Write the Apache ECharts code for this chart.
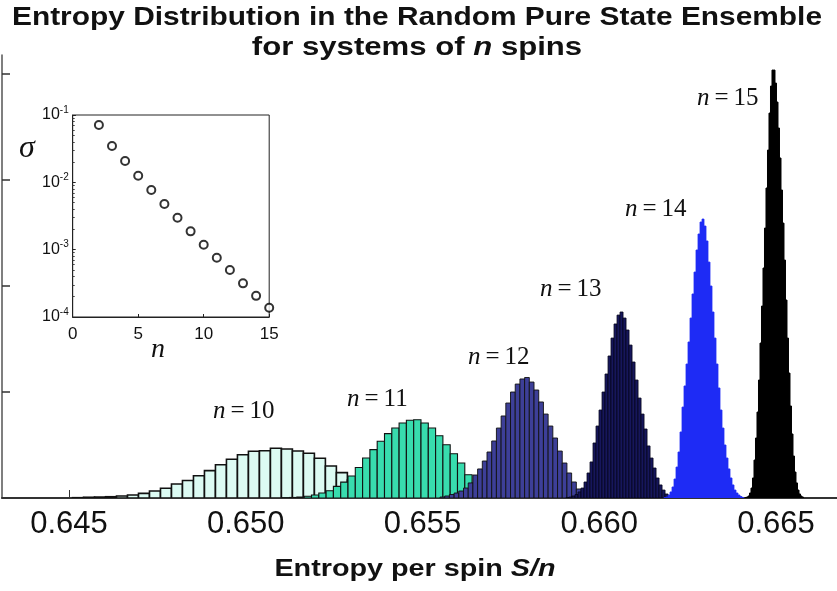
<!DOCTYPE html>
<html>
<head>
<meta charset="utf-8">
<script src="https://cdn.jsdelivr.net/npm/echarts@6/dist/echarts.min.js"></script>
<style>html,body{margin:0;padding:0;background:#fff}#c{width:837px;height:591px}</style>
</head>
<body>
<div id="c"></div>
<script>
// ---------- DATA ----------
const xTicks = [0.645, 0.650, 0.655, 0.660, 0.665];
const yTicks = [0, 100, 200, 300, 400];
// histogram n=10
const n10Start = 0.64510, n10Width = 0.000311;
const n10Heights = [0.3,0.7,0.9,1.2,1.9,2.8,4.4,6.6,9.2,13.2,16.5,21.0,25.8,31.4,36.5,40.8,44.1,44.6,46.9,46.2,44.3,42.2,37.5,30.2,23.9,17.0,10.4,5.7,2.8,1.4,0.7];
// histogram n=11
const n11Start = 0.651034, n11Width = 0.0002065;
const n11Heights = [0.3,0.5,0.9,1.6,2.8,4.7,6.9,11.0,15.0,20.8,28.8,37.7,45.6,53.5,60.7,66.0,70.8,73.3,73.9,70.8,66.0,58.8,50.3,41.8,33.0,22.0,14.2,8.5,4.7,2.4,0.9];
// histogram n=12
const n12Start = 0.655495, n12Width = 0.000133;
const n12Heights = [0.9,1.9,3.3,4.7,6.6,9.4,14.2,21.7,27.4,34.9,43.4,53.8,66.0,77.4,89.6,100.0,107.5,112.3,113.7,109.4,101.9,90.6,79.2,67.9,56.6,44.3,33.0,23.6,15.1,8.5,4.2,1.9,0.9,0.5];
// histogram n=13
const n13Start = 0.659060, n13Width = 0.0000849;
const n13Heights = [0.5,0.9,1.9,3.3,5.7,9.4,15.1,23.6,34.0,51.9,67.9,83.0,100.0,117.0,134.0,150.9,164.2,172.6,175.5,169.8,158.5,144.3,128.3,111.3,94.3,79.2,65.1,49.1,37.7,28.3,18.9,12.3,7.5,3.8,1.9,0.9];
// histogram n=14
const n14Start = 0.661832, n14Width = 0.00005658;
const n14Heights = [0.5,0.9,2.8,5.7,10.4,17.9,29.2,43.4,62.3,85.8,105.7,126.4,147.2,169.8,192.5,213.2,234.0,249.1,260.4,263.2,256.6,242.5,222.6,200.0,175.5,150.9,126.4,103.8,83.0,66.0,50.0,37.7,27.4,18.9,12.3,7.5,4.7,2.8,1.4,0.5];
// histogram n=15
const n15Start = 0.664123, n15Width = 0.00004243;
const n15Heights = [0.5,0.9,1.9,4.7,9.4,18.9,35.8,56.6,81.1,111.3,146.2,181.1,217.0,254.7,292.5,328.3,363.2,388.7,403.8,403.8,391.5,373.6,349.1,320.8,290.6,259.4,224.5,186.8,150.9,117.9,86.8,60.4,39.6,24.5,14.2,7.5,3.8,1.9,0.9];
// inset: sigma vs n
const insetN = [2,3,4,5,6,7,8,9,10,11,12,13,14,15];
const insetSigma = [0.071,0.0346,0.0207,0.01256,0.00769,0.00477,0.00298,0.00187,0.00118,0.000759,0.000498,0.000316,0.000206,0.000137];
const insetXTicks = [0,5,10,15];
const labelsN = ['10','11','12','13','14','15'];

// ---------- CHART ----------
const chart = echarts.init(document.getElementById('c'), null, {renderer:'canvas'});

function bins(start, width, heights){
  return heights.map((h,i)=>[start+i*width, start+(i+1)*width, h]);
}
function histSeries(data, fill, stroke, lw){
  return {
    type:'custom', xAxisIndex:0, yAxisIndex:0, clip:true,
    encode:{x:[0,1], y:2},
    data:data,
    renderItem:function(params, api){
      const a = api.coord([api.value(0), api.value(2)]);
      const b = api.coord([api.value(1), 0]);
      return {type:'rect', shape:{x:a[0], y:a[1], width:b[0]-a[0], height:b[1]-a[1]},
        style:{fill:fill, stroke:stroke, lineWidth:lw}};
    }
  };
}
const serifLbl = {fontFamily:'Liberation Serif', fontSize:25, color:'#111'};
function nLabel(num, x, y){
  return {type:'text', left:x, top:y, style:{
    text:'{i|n}\u2009=\u2009{r|'+num+'}',
    rich:{i:Object.assign({fontStyle:'italic'},serifLbl), r:serifLbl},
    font:'25px "Liberation Serif"', fill:'#111'}};
}
function wideText(txt, x, y, size, sx){
  return {type:'text', x:x, y:y, scaleX:sx, z:20, style:{
    text:txt, textAlign:'center', textVerticalAlign:'middle',
    font:'bold '+size+'px "Liberation Sans"', fill:'#111',
    rich:{i:{fontFamily:'Liberation Sans', fontWeight:'bold', fontStyle:'italic', fontSize:size, fill:'#111', color:'#111'},
          b:{fontFamily:'Liberation Sans', fontWeight:'bold', fontSize:size, fill:'#111', color:'#111'}}}};
}

const option = {
  backgroundColor:'#fff',
  animation:false,
  grid:[
    {left:2, right:0, top:55, bottom:93, containLabel:false},
    {left:72.7, top:115, width:196.5, height:202, show:true, borderColor:'#222', borderWidth:1, backgroundColor:'#fff', z:10}
  ],
  xAxis:[
    {type:'value', gridIndex:0, min:0.6431047, max:0.6667257,
     axisLine:{show:true, onZero:false, lineStyle:{color:'#333', width:2}},
     axisTick:{show:true, inside:true, length:8, customValues:xTicks, lineStyle:{color:'#333'}},
     axisLabel:{show:true, margin:11, customValues:xTicks, fontFamily:'Liberation Sans', fontSize:31, color:'#111',
       formatter:function(v){ return v.toFixed(3); }},
     splitLine:{show:false}
    },
    {type:'value', gridIndex:1, min:0, max:15, interval:5, z:11,
     axisLine:{show:true, onZero:false, lineStyle:{color:'#222', width:1}},
     axisTick:{show:true, inside:true, length:3, lineStyle:{color:'#222'}},
     axisLabel:{margin:9, fontFamily:'Liberation Sans', fontSize:17, color:'#111'},
     splitLine:{show:false}}
  ],
  yAxis:[
    {type:'value', gridIndex:0, min:0, max:418, interval:100,
     axisLine:{show:true, onZero:false, lineStyle:{color:'#555', width:1.5}},
     axisTick:{show:true, inside:true, length:8, customValues:yTicks, lineStyle:{color:'#333', width:1.5}},
     axisLabel:{show:false}, splitLine:{show:false}},
    {type:'log', gridIndex:1, logBase:10, min:0.0001, max:0.1, z:11,
     axisLine:{show:true, onZero:false, lineStyle:{color:'#222', width:1}},
     axisTick:{show:true, inside:true, length:3, lineStyle:{color:'#222'}},
     minorTick:{show:true, splitNumber:9, length:2, lineStyle:{color:'#444'}},
     axisLabel:{margin:4, fontFamily:'Liberation Sans', fontSize:16, color:'#111',
       formatter:function(v){ const e=Math.round(Math.log10(v)); return '10{s|'+e+'}'; },
       rich:{s:{fontFamily:'Liberation Sans', fontSize:10, color:'#111', verticalAlign:'top', padding:[0,0,10,0]}}},
     splitLine:{show:false}}
  ],
  series:[
    histSeries(bins(n10Start,n10Width,n10Heights), '#dcfbf3', '#111', 1.6),
    histSeries(bins(n11Start,n11Width,n11Heights), '#38dcae', '#111', 1.1),
    histSeries(bins(n12Start,n12Width,n12Heights), '#3d3f98', '#111', 0.9),
    histSeries(bins(n13Start,n13Width,n13Heights), '#16165c', '#05051a', 0.8),
    histSeries(bins(n14Start,n14Width,n14Heights), '#1f2cf5', '#1f2cf5', 0.8),
    histSeries(bins(n15Start,n15Width,n15Heights), '#000', '#000', 1),
    {type:'scatter', xAxisIndex:1, yAxisIndex:1, z:12,
     data:insetN.map((n,i)=>[n, insetSigma[i]]),
     symbol:'circle', symbolSize:8,
     itemStyle:{color:'#fff', borderColor:'#000', borderWidth:2}}
  ],
  graphic:[
    wideText('Entropy Distribution in the Random Pure State Ensemble', 417, 18, 25, 1.195),
    wideText('{b|for systems of }{i|n}{b| spins}', 417, 48, 25, 1.245),
    wideText('{b|Entropy per spin }{i|S/n}', 415, 570, 23, 1.25),
    nLabel(labelsN[0], 213, 399),
    nLabel(labelsN[1], 347, 387),
    nLabel(labelsN[2], 468, 345),
    nLabel(labelsN[3], 540, 277),
    nLabel(labelsN[4], 625, 197),
    nLabel(labelsN[5], 697, 86),
    {type:'text', left:19, top:133, z:20, style:{text:'\u03c3', font:'italic 32px "Liberation Serif"', fill:'#111'}},
    {type:'text', left:151, top:336, z:20, style:{text:'n', font:'italic 28px "Liberation Serif"', fill:'#111'}}
  ]
};
chart.setOption(option);
</script>
</body>
</html>
